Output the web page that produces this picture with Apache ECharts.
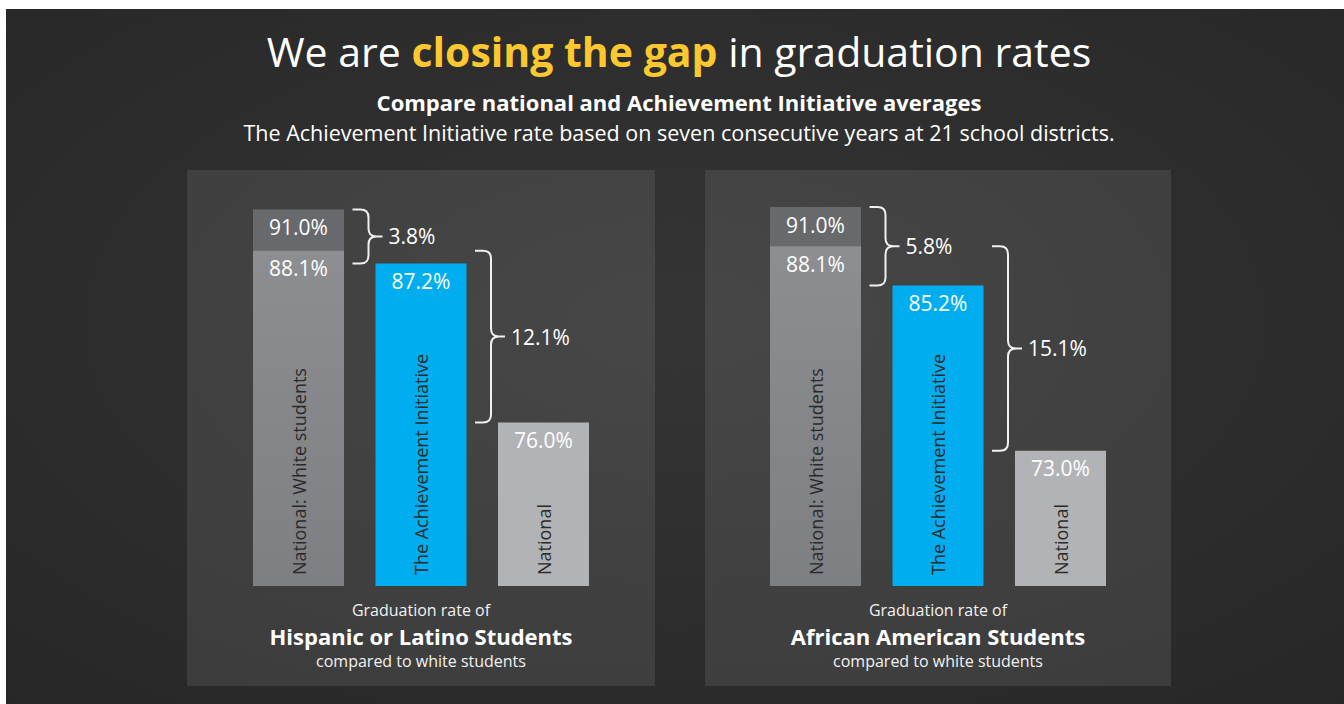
<!DOCTYPE html>
<html><head><meta charset="utf-8">
<script src="https://cdn.jsdelivr.net/npm/echarts@6/dist/echarts.min.js"></script>
<style>html,body{margin:0;padding:0;background:#fff}#c{width:1344px;height:704px}</style>
</head><body><div id="c"></div>
<script>
// ---- data ----
const categories = ['National: White students', 'The Achievement Initiative', 'National'];
const hispanicValues = [91.0, 87.2, 76.0];
const hispanicWhiteLower = 88.1;
const hispanicGaps = [3.8, 12.1];
const africanValues = [91.0, 85.2, 73.0];
const africanWhiteLower = 88.1;
const africanGaps = [5.8, 15.1];
const panelGroups = ['Hispanic or Latino Students', 'African American Students'];
const titleParts = ['We are ', 'closing the gap', ' in graduation rates'];
const subtitle1 = 'Compare national and Achievement Initiative averages';
const subtitle2 = 'The Achievement Initiative rate based on seven consecutive years at 21 school districts.';
const captionTop = 'Graduation rate of';
const captionBottom = 'compared to white students';

// ---- styles ----
const FONT = "'Open Sans', 'Noto Sans', sans-serif";
const barColors = ['#68696d', '#00aeef', '#b2b3b7'];
const lowerColor = new echarts.graphic.LinearGradient(0, 0, 0, 1, [
  {offset: 0, color: '#8d8e92'}, {offset: 1, color: '#7e7f83'}]);

const chart = echarts.init(document.getElementById('c'), null, {renderer: 'svg'});

function bracketRender(gaps) {
  return function (params, api) {
    const cat = api.value(0);
    const a = api.coord([cat, api.value(1)]);
    const b = api.coord([cat, api.value(2)]);
    const cx = a[0];
    const x0 = cx + 54, x1 = cx + 70, x2 = cx + 84, r = 8;
    const yT = Math.min(a[1], b[1]), yB = Math.max(a[1], b[1]), yM = (yT + yB) / 2;
    const d = 'M' + x0 + ' ' + yT + 'L' + (x1 - r) + ' ' + yT + 'Q' + x1 + ' ' + yT + ' ' + x1 + ' ' + (yT + r) +
      'L' + x1 + ' ' + (yM - r) + 'Q' + x1 + ' ' + yM + ' ' + (x1 + r) + ' ' + yM + 'L' + x2 + ' ' + yM +
      'M' + (x1 + r) + ' ' + yM + 'Q' + x1 + ' ' + yM + ' ' + x1 + ' ' + (yM + r) +
      'L' + x1 + ' ' + (yB - r) + 'Q' + x1 + ' ' + yB + ' ' + (x1 - r) + ' ' + yB + 'L' + x0 + ' ' + yB;
    return {
      type: 'group',
      children: [
        {type: 'path', shape: {pathData: d, x: x0, y: yT, width: x2 - x0, height: yB - yT},
          style: {stroke: '#f0f0f0', lineWidth: 2, fill: null}},
        {type: 'text', style: {text: gaps[params.dataIndex].toFixed(1) + '%', x: x2 + 6, y: yM,
          align: 'left', verticalAlign: 'middle', fill: '#ffffff', fontSize: 21, fontFamily: FONT}}
      ]
    };
  };
}

function panelSeries(idx, values, whiteLower, gaps) {
  return [
    {
      type: 'bar', xAxisIndex: idx, yAxisIndex: idx, barWidth: 91, barGap: '-100%', z: 2,
      data: values.map((v, i) => ({value: v, itemStyle: {color: barColors[i]}})),
      label: {show: true, position: 'insideTop', distance: 7, color: '#ffffff', fontSize: 21,
        fontFamily: FONT, formatter: p => p.value.toFixed(1) + '%'}
    },
    {
      type: 'bar', xAxisIndex: idx, yAxisIndex: idx, barWidth: 91, barGap: '-100%', z: 2,
      data: [whiteLower, '-', '-'],
      itemStyle: {color: lowerColor},
      label: {show: true, position: 'insideTop', distance: 7, color: '#ffffff', fontSize: 21,
        fontFamily: FONT, formatter: p => p.value.toFixed(1) + '%'}
    },
    {
      type: 'custom', xAxisIndex: idx, yAxisIndex: idx, z: 3, clip: false,
      data: [[0, values[0], values[1]], [1, whiteLower, values[2]]],
      encode: {x: 0, y: [1, 2]},
      renderItem: bracketRender(gaps)
    }
  ];
}

function xAxisFor(idx) {
  return {
    type: 'category', gridIndex: idx, data: categories, z: 5,
    axisLine: {show: false}, axisTick: {show: false}, splitLine: {show: false},
    axisLabel: {inside: true, rotate: 90, margin: 11, interval: 0, color: '#2a2a2a',
      fontSize: 18, fontFamily: FONT}
  };
}

function captionTexts(cx, group) {
  return [
    {type: 'text', x: cx, y: 610, z: 10, style: {text: captionTop, fill: '#f2f2f2', fontSize: 16,
      fontFamily: FONT, align: 'center', verticalAlign: 'middle'}},
    {type: 'text', x: cx, y: 636, z: 10, style: {text: group, fill: '#ffffff', fontSize: 22,
      fontWeight: 'bold', fontFamily: FONT, align: 'center', verticalAlign: 'middle'}},
    {type: 'text', x: cx, y: 661, z: 10, style: {text: captionBottom, fill: '#f2f2f2', fontSize: 16,
      fontFamily: FONT, align: 'center', verticalAlign: 'middle'}}
  ];
}

const option = {
  backgroundColor: '#ffffff',
  animation: false,
  title: {
    text: '{r|' + titleParts[0] + '}{b|' + titleParts[1] + '}{r|' + titleParts[2] + '}',
    left: 679, textAlign: 'center', top: 26, padding: 0,
    textStyle: {
      fontWeight: 'normal',
      rich: {
        r: {color: '#ffffff', fontSize: 41, fontWeight: 'normal', fontFamily: FONT, lineHeight: 50},
        b: {color: '#fdc82f', fontSize: 41, fontWeight: 'bold', fontFamily: FONT, lineHeight: 50}
      }
    }
  },
  graphic: [
    {type: 'rect', z: -10, shape: {x: 6, y: 9, width: 1338, height: 695},
      style: {fill: new echarts.graphic.RadialGradient(0.5, 0.45, 0.8, [
        {offset: 0, color: '#353535'}, {offset: 1, color: '#262626'}])}},
    {type: 'rect', z: -9, shape: {x: 187, y: 170, width: 468, height: 516},
      style: {fill: 'rgba(255,255,255,0.09)'}},
    {type: 'rect', z: -9, shape: {x: 705, y: 170, width: 466, height: 516},
      style: {fill: 'rgba(255,255,255,0.09)'}},
    {type: 'text', x: 679, y: 102, z: 10, style: {text: subtitle1, fill: '#ffffff', fontSize: 22,
      fontWeight: 'bold', fontFamily: FONT, align: 'center', verticalAlign: 'middle'}},
    {type: 'text', x: 679, y: 132, z: 10, style: {text: subtitle2, fill: '#ffffff', fontSize: 21.5,
      fontFamily: FONT, align: 'center', verticalAlign: 'middle'}}
  ].concat(captionTexts(421, panelGroups[0]), captionTexts(938, panelGroups[1])),
  grid: [
    {left: 237.25, width: 367.5, top: 181, bottom: 118, outerBoundsMode: 'none'},
    {left: 754.25, width: 367.5, top: 180, bottom: 118, outerBoundsMode: 'none'}
  ],
  xAxis: [xAxisFor(0), xAxisFor(1)],
  yAxis: [
    {type: 'value', gridIndex: 0, min: 64.5, max: 93, show: false, splitLine: {show: false}},
    {type: 'value', gridIndex: 1, min: 63, max: 93, show: false, splitLine: {show: false}}
  ],
  series: [].concat(
    panelSeries(0, hispanicValues, hispanicWhiteLower, hispanicGaps),
    panelSeries(1, africanValues, africanWhiteLower, africanGaps)
  )
};
chart.setOption(option);
</script>
</body></html>
